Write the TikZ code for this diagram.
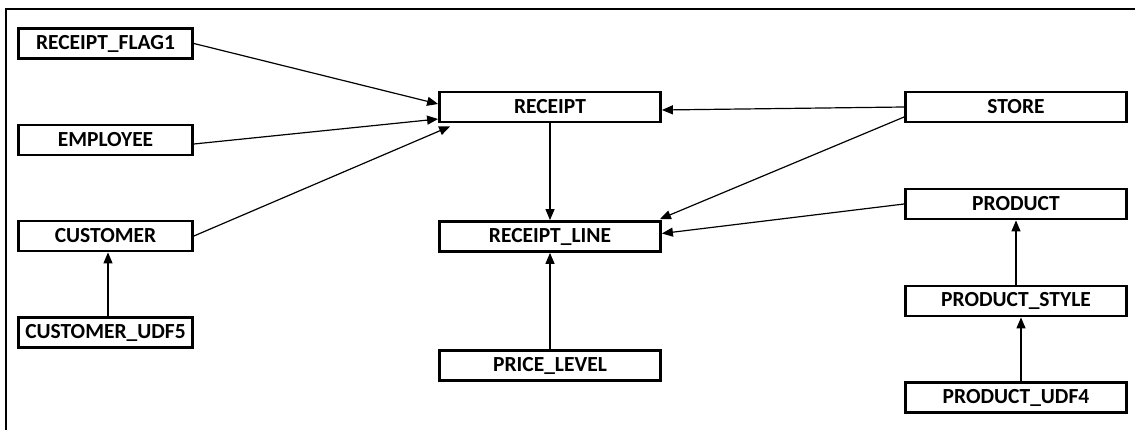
\documentclass[tikz,border=0pt]{standalone}
\usepackage{fontspec}
\setmainfont{Carlito}
\usetikzlibrary{arrows.meta,calc}
\begin{document}
\begin{tikzpicture}[x=1pt,y=-1pt,
  entity/.style={draw=black,line width=2.8pt,rectangle,inner sep=0pt,
    minimum height=30pt,font=\fontsize{21.5}{23}\selectfont\bfseries},
  narrow/.style={entity,minimum width=174pt},
  wide/.style={entity,minimum width=221pt},
  link/.style={line width=1.2pt,-{Triangle[length=11pt,width=9pt]}}]
\useasboundingbox (0,0) rectangle (1135,430);
\draw[line width=2.5pt] (6,430) -- (6,9) -- (1135,9);
% left column
\node[narrow] (flag) at (105.5,43.5) {RECEIPT\_FLAG1};
\node[narrow] (emp)  at (105.5,140) {EMPLOYEE};
\node[narrow] (cust) at (105.5,236) {CUSTOMER};
\node[narrow] (udf5) at (105.5,332.5) {CUSTOMER\_UDF5};
% middle column
\node[wide] (rcpt)  at (550,107) {RECEIPT};
\node[wide] (line)  at (550,236.5) {RECEIPT\_LINE};
\node[wide] (price) at (550,365.5) {PRICE\_LEVEL};
% right column
\node[wide] (store) at (1016,107) {STORE};
\node[wide] (prod)  at (1016,204) {PRODUCT};
\node[wide] (style) at (1016,301) {PRODUCT\_STYLE};
\node[wide] (udf4)  at (1016,397.5) {PRODUCT\_UDF4};
% connectors
\draw[link] (flag.east) -- ($(rcpt.west)+(0,-3)$);
\draw[link] ($(emp.east)+(0,4)$) -- ($(rcpt.west)+(0,12)$);
\draw[link] (cust.east) -- ($(rcpt.south west)+(12,3)$);
\draw[link] (rcpt.south) -- (line.north);
\draw[link] (price.north) -- (line.south);
\draw[link] (store.west) -- ($(rcpt.east)+(0,3)$);
\draw[link] ($(store.west)+(0,10)$) -- ($(line.north east)+(-2,-1)$);
\draw[link] (prod.west) -- ($(line.east)+(0,-3)$);
\draw[link] ($(udf5.north)+(2.5,0)$) -- ($(cust.south)+(2.5,0)$);
\draw[link] (style.north) -- (prod.south);
\draw[link] ($(udf4.north)+(5,0)$) -- ($(style.south)+(5,0)$);
\end{tikzpicture}
\end{document}
